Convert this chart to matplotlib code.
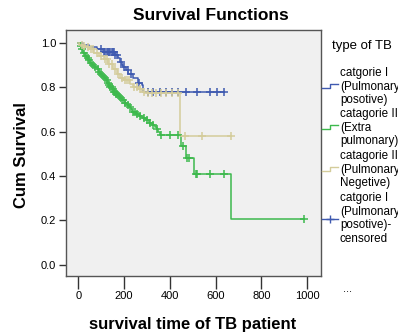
import numpy as np
import matplotlib
matplotlib.use("Agg")
import matplotlib.pyplot as plt
from matplotlib.lines import Line2D

plt.rcParams['font.family'] = ['Liberation Sans', 'DejaVu Sans']

# Kaplan-Meier step points (time, survival) and censored times per TB type
blue_t = [0, 20, 45, 80, 109, 160, 175, 182, 190, 197, 210, 218, 240, 260, 277, 284]
blue_s = [1.0, 0.99, 0.98, 0.97, 0.96, 0.945, 0.93, 0.915, 0.90, 0.89, 0.875, 0.86, 0.84, 0.82, 0.81, 0.78]
blue_cens = [100, 110, 118, 125, 130, 135, 140, 145, 150, 155, 160, 168, 185, 200, 215,
             230, 265, 306, 327, 357, 383, 408, 437, 470, 517, 575, 604, 638]

green_t = [0, 5, 12, 20, 28, 36, 44, 52, 60, 70, 80, 88, 96, 104, 112, 120, 126, 132, 138,
           146, 154, 162, 172, 182, 192, 202, 212, 220, 228, 236, 250, 264, 280, 295, 310,
           322, 333, 342, 350, 357, 448, 470, 505, 665]
green_s = [1.0, 0.985, 0.97, 0.955, 0.94, 0.93, 0.92, 0.91, 0.90, 0.89, 0.88, 0.87, 0.86,
           0.85, 0.84, 0.83, 0.82, 0.81, 0.80, 0.79, 0.78, 0.77, 0.76, 0.75, 0.74, 0.73,
           0.72, 0.71, 0.70, 0.69, 0.68, 0.67, 0.66, 0.65, 0.64, 0.63, 0.62, 0.61, 0.60,
           0.585, 0.535, 0.48, 0.41, 0.207]
green_cens = [10, 18, 25, 33, 40, 48, 55, 63, 72, 85, 92, 100, 108, 116, 123, 130, 135, 140,
              145, 150, 155, 160, 165, 170, 178, 186, 195, 205, 215, 225, 240, 248, 258, 270,
              285, 300, 315, 328, 345, 362, 400, 437, 455, 476, 482, 512, 520, 575, 636, 987]

tan_t = [0, 8, 18, 30, 51, 70, 90, 110, 130, 153, 168, 182, 200, 226, 240, 260, 280, 299, 445]
tan_s = [1.0, 0.99, 0.985, 0.98, 0.97, 0.955, 0.94, 0.925, 0.905, 0.88, 0.86, 0.84, 0.83,
         0.815, 0.80, 0.79, 0.78, 0.775, 0.578]
tan_cens = [15, 25, 40, 55, 65, 80, 100, 118, 125, 135, 145, 160, 175, 190, 205, 212, 220,
            245, 255, 268, 285, 305, 320, 340, 360, 385, 410, 437, 466, 541, 665]

groups = [
    ("catgorie I\n(Pulmonary\nposotive)", blue_t, blue_s, blue_cens, "#3F5AB0"),
    ("catagorie II\n(Extra\npulmonary)", green_t, green_s, green_cens, "#3DB94D"),
    ("catagorie II\n(Pulmonary\nNegetive)", tan_t, tan_s, tan_cens, "#D4CC9B"),
]

xticks = [0, 200, 400, 600, 800, 1000]
yticks = [0.0, 0.2, 0.4, 0.6, 0.8, 1.0]

fig = plt.figure(figsize=(3.98, 3.36), dpi=100)
ax = fig.add_axes([66 / 398, 1 - 276 / 336, 255 / 398, 246 / 336])
ax.set_facecolor("#F0F0F0")

for label, t, s, cens, col in groups:
    t = np.array(t, dtype=float)
    s = np.array(s, dtype=float)
    end = max(max(cens), t[-1])
    tt = np.append(t, end)
    ss = np.append(s, s[-1])
    ax.step(tt, ss, where="post", color=col, lw=1.1, zorder=3)
    c = np.array(cens, dtype=float)
    idx = np.searchsorted(t, c, side="right") - 1
    ax.plot(c, s[idx], ls="none", marker="+", ms=6, mew=1.1, color=col, zorder=4)

ax.set_xlim(-54, 1060)
ax.set_ylim(-0.05, 1.057)
ax.set_xticks(xticks)
ax.set_yticks(yticks)
ax.set_yticklabels([f"{v:.1f}" for v in yticks])
ax.tick_params(axis="x", length=9, width=1, color="#333333", labelsize=8, pad=2)
ax.tick_params(axis="y", length=5, width=1, color="#333333", labelsize=8, pad=2)
for sp in ax.spines.values():
    sp.set_color("#555555")
    sp.set_linewidth(1)

fig.text(211 / 398, 1 - 15 / 336, "Survival Functions", ha="center", va="center",
         fontsize=12.5, fontweight="bold")
fig.text(193 / 398, 1 - 325 / 336, "survival time of TB patient", ha="center", va="center",
         fontsize=12, fontweight="bold")
fig.text(22 / 398, 1 - 155 / 336, "Cum Survival", ha="center", va="center",
         rotation=90, fontsize=12, fontweight="bold")

# legend drawn at figure level so text runs off the right edge
fig.text(332 / 398, 1 - 46 / 336, "type of TB", ha="left", va="center", fontsize=9.5)
lh = 13.7
tops = [73, 114, 156]
for (label, t, s, cens, col), top in zip(groups, tops):
    for k, line in enumerate(label.split("\n")):
        fig.text(340 / 398, 1 - (top + k * lh) / 336, line, ha="left", va="center",
                 fontsize=8.4)
    ym = top + lh
    xs = np.array([322, 330, 330, 338]) / 398
    ys = 1 - np.array([ym + 1.5, ym + 1.5, ym - 2.5, ym - 2.5]) / 336
    fig.add_artist(Line2D(xs, ys, color=col, lw=1))
cens_lines = ["catgorie I", "(Pulmonary", "posotive)-", "censored"]
for k, line in enumerate(cens_lines):
    fig.text(340 / 398, 1 - (198 + k * lh) / 336, line, ha="left", va="center", fontsize=8.4)
ym = 198 + 1.5 * lh
fig.add_artist(Line2D(np.array([322, 338]) / 398, [1 - ym / 336] * 2, color="#3F5AB0", lw=1))
fig.add_artist(Line2D([330 / 398], [1 - ym / 336], color="#3F5AB0", marker="+", ms=6, mew=1))
fig.text(343 / 398, 1 - 289 / 336, "...", ha="left", va="center", fontsize=8)

fig.savefig("out.png", dpi=100)
